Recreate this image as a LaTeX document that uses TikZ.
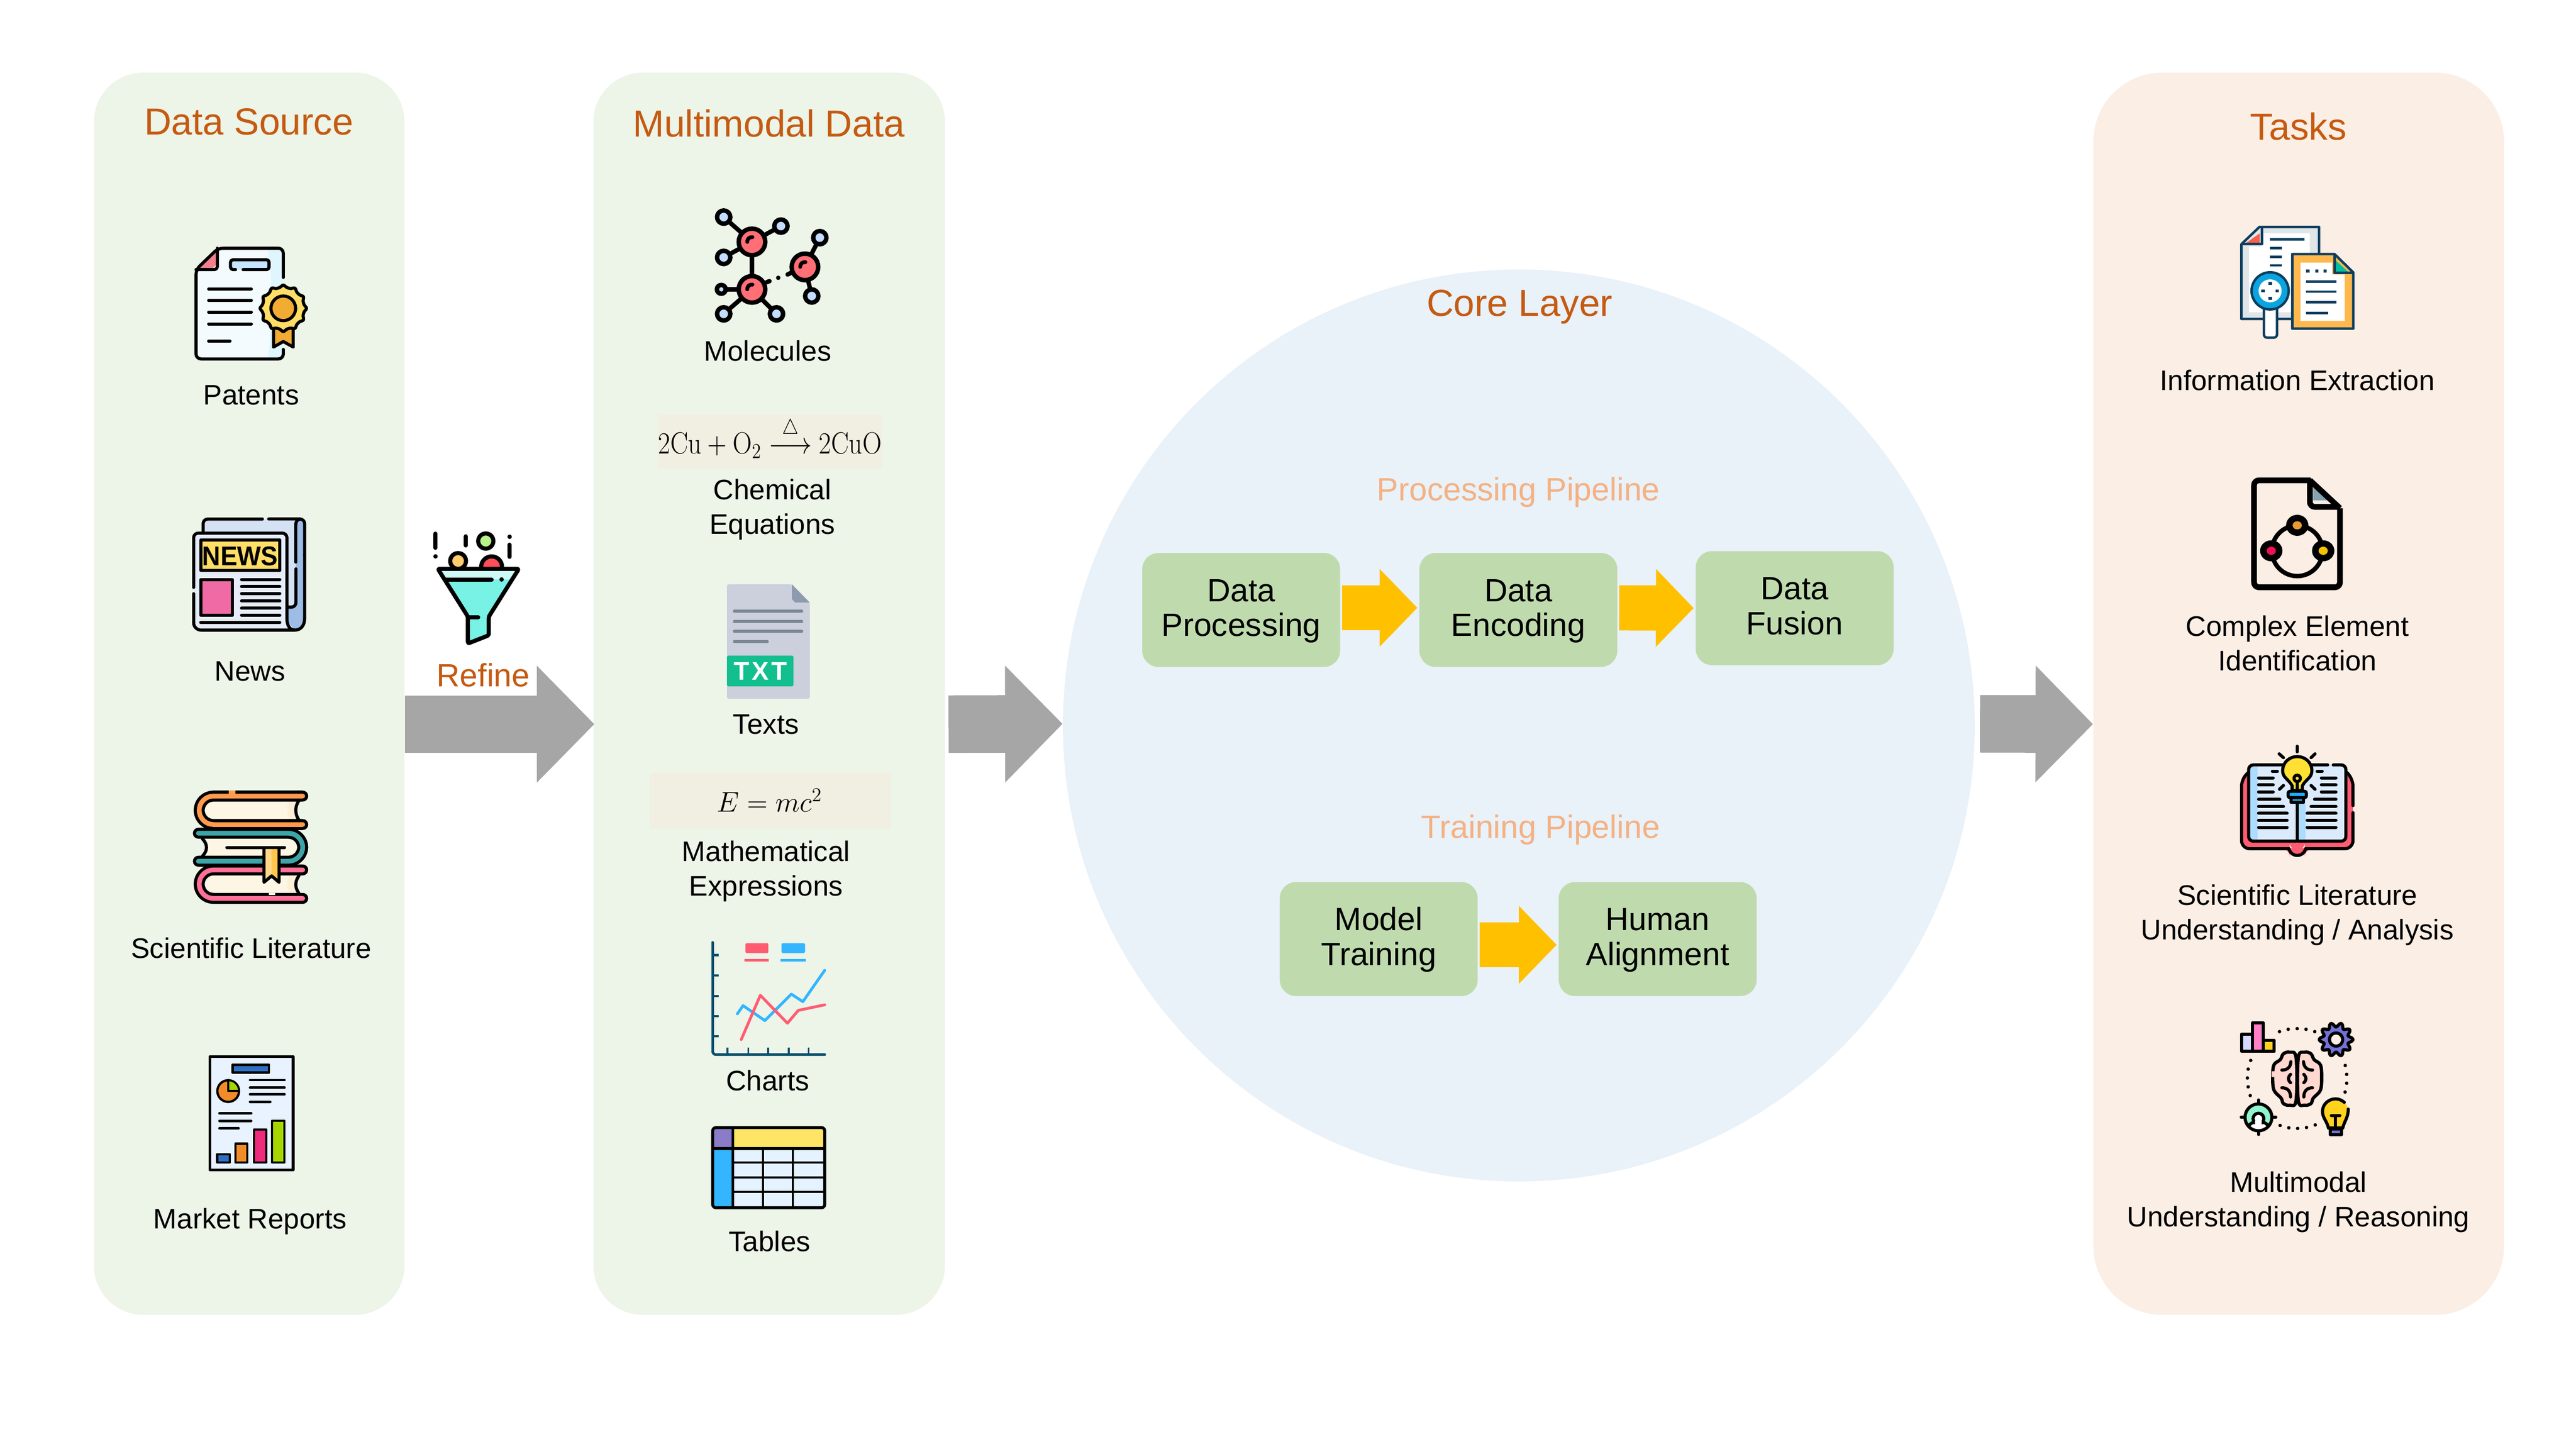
\documentclass[tikz,border=0pt]{standalone}
\usepackage[no-math]{fontspec}
\setmainfont{Liberation Sans}
\usetikzlibrary{arrows.meta,calc}
\definecolor{titlec}{HTML}{C55A11}
\definecolor{pipec}{HTML}{F4B183}
\definecolor{panelg}{HTML}{EDF4E8}
\definecolor{panelt}{HTML}{FBEEE5}
\definecolor{corec}{HTML}{E9F1F9}
\definecolor{boxg}{HTML}{BFDBAE}
\definecolor{gry}{HTML}{A6A6A6}
\definecolor{org}{HTML}{FFC000}
\definecolor{eqbg}{HTML}{F1EEE2}
\definecolor{navy}{HTML}{0E3E5E}
\newcommand\btop{\rule{0pt}{15pt}}
\newcommand\bbot{\rule[-4.2pt]{0pt}{4.2pt}}
\tikzset{
  x=1pt,y=-1pt,
  panel/.style={rectangle,rounded corners=30pt,inner sep=0pt,fill=panelg,anchor=north west},
  blockbox/.style={rectangle,rounded corners=10pt,fill=boxg,inner sep=0pt,minimum width=120.5pt,minimum height=69.4pt,align=center,font=\fontsize{19.6}{21.2}\selectfont},
  lbl/.style={align=center,inner sep=0pt,anchor=base,font=\fontsize{17.2}{21}\selectfont},
  ttl/.style={inner sep=0pt,anchor=base,text=titlec,font=\fontsize{22.9}{26}\selectfont},
  pipe/.style={inner sep=0pt,anchor=base,text=pipec,font=\fontsize{19.6}{24}\selectfont},
  bigarrow/.style={-{Triangle[length=35pt,width=69pt]},line width=35pt,draw=gry},
  oarrow/.style={-{Triangle[length=23pt,width=46pt]},line width=27.5pt,draw=org,shorten >=1pt,shorten <=1pt},
  ic/.style 2 args={shift={(#1/3.4643,#2/3.4643)},scale=.09623},
  ln/.style={draw=black,line cap=round,line join=round,line width=1.9pt},
  lnn/.style={draw=navy,line cap=butt,line join=round,line width=1.5pt},
}
\begin{document}
\begin{tikzpicture}
\useasboundingbox (0,0) rectangle (1568,881.83);
\fill[white] (0,0) rectangle (1568,881.83);
% panels
\node[panel,minimum width=189pt,minimum height=756pt] (ds) at (57,44) {};
\node[panel,minimum width=214pt,minimum height=756pt] (mm) at (361,44) {};
\node[panel,fill=panelt,rounded corners=42pt,minimum width=250pt,minimum height=756pt] (tk) at (1274,44) {};
\node[circle,fill=corec,inner sep=0pt,minimum size=555pt] (core) at (924.5,441.5) {};
% grey arrows
\draw[bigarrow] ([yshift=-18.5pt]ds.east) -- ([xshift=.8pt,yshift=-18.5pt]mm.west);
\draw[bigarrow] ([xshift=2pt,yshift=-18.5pt]mm.east) -- ([yshift=1pt]core.west);
\draw[bigarrow] ([xshift=3pt,yshift=1pt]core.east) -- ([yshift=-18.5pt]tk.west);
% titles
\node[ttl] (t1) at (151.5,82) {Data Source};
\node[ttl] (t2) at (468,83.2) {Multimodal Data};
\node[ttl] (t3) at (1399,85.2) {Tasks};
\node[ttl] (t4) at (925,192.5) {Core Layer};
\node[pipe] (p1) at (924.3,304.5) {Processing Pipeline};
\node[pipe] (p2) at (937.8,510) {Training Pipeline};
\node[pipe,text=titlec] (rf) at (294.2,417.8) {Refine};
% blocks
\node[blockbox] (dp) at (755.5,371.2) {\btop Data\\Processing\bbot};
\node[blockbox] (de) at (924.2,371.2) {\btop Data\\Encoding\bbot};
\node[blockbox] (df) at (1092.4,370.1) {\btop Data\\Fusion\bbot};
\node[blockbox] (mt) at (839.2,571.5) {\btop Model\\Training\bbot};
\node[blockbox] (ha) at (1009,571.5) {\btop Human\\Alignment\bbot};
\draw[oarrow] ([yshift=1.3pt]dp.east) -- ([yshift=1.3pt]de.west);
\draw[oarrow] ([yshift=1.3pt]de.east) -- (df.west);
\draw[oarrow] ([yshift=-3.5pt]mt.east) -- ([yshift=-3.5pt]ha.west);
% labels left
\node[lbl] (l1) at (152.9,246.4) {Patents};
\node[lbl] (l2) at (152.2,414.4) {News};
\node[lbl] (l3) at (152.9,583.2) {Scientific Literature};
\node[lbl] (l4) at (152.2,747.7) {Market Reports};
% labels mid
\node[lbl] (m1) at (467.3,219.8) {Molecules};
\node[lbl] (m2) at (470.1,325) {Chemical\\Equations};
\node[lbl] (m3) at (466.3,446.6) {Texts};
\node[lbl] (m4) at (466.3,545.3) {Mathematical\\Expressions};
\node[lbl] (m5) at (467.3,663.7) {Charts};
\node[lbl] (m6) at (468.4,761.5) {Tables};
% labels right
\node[lbl] (r1) at (1398.4,237.6) {Information Extraction};
\node[lbl] (r2) at (1398.4,408) {Complex Element\\Identification};
\node[lbl] (r3) at (1398.4,571.8) {Scientific Literature\\Understanding / Analysis};
\node[lbl] (r4) at (1399,746.4) {Multimodal\\Understanding / Reasoning};
% equations
\fill[eqbg] (400.5,252) rectangle (537,285);
\node[inner sep=0pt,anchor=base] (eq1) at (468.7,276) {\fontsize{17.28}{21}\selectfont\scalebox{.935}[1.08]{$2\mathrm{Cu}+\mathrm{O}_2\stackrel{\raisebox{2.5pt}{$\scriptstyle\triangle$}}{\longrightarrow}2\mathrm{CuO}$}};
\fill[eqbg] (395.3,470.4) rectangle (542,504.2);
\node[inner sep=0pt,anchor=base] (eq2) at (468.5,494) {\fontsize{17.28}{21}\selectfont $E=mc^2$};

% ---- Patents
\begin{scope}[ic={380}{500}]
\definecolor{c1}{HTML}{F3FBFF}\definecolor{c2}{HTML}{E0F6FF}\definecolor{c3}{HTML}{F47F8E}\definecolor{c4}{HTML}{C6E3FF}\definecolor{c5}{HTML}{FFDD66}\definecolor{c6}{HTML}{F2AB33}
\fill[c1] (100,205) -- (240,70) -- (620,70) -- (652,110) -- (652,735) -- (615,770) -- (140,770) -- (100,735) -- cycle;
\fill[c2] (555,75) -- (620,75) -- (650,110) -- (650,735) -- (615,765) -- (555,765) .. controls (585,500) and (585,300) .. (555,75);
\fill[c3] (120,198) -- (228,95) -- (228,175) -- (205,198) -- cycle;
\draw[ln,rounded corners=3pt] (652,255) -- (652,70) -- (240,70) -- (100,205) -- (100,770) -- (652,770) -- (652,710);
\draw[ln,rounded corners=2pt] (100,205) -- (235,205) -- (235,70);
\fill[c4] (320,145) rectangle (560,205);
\draw[ln,rounded corners=1.5pt] (350,205) -- (318,205) -- (318,143) -- (562,143) -- (562,205) -- (398,205);
\foreach \y in {327,401,475,549} \draw[ln] (180,\y) -- (450,\y);
\draw[ln] (180,658) -- (315,658);
\draw[ln,fill=c6] (590,570) -- (590,695) -- (652,660) -- (715,695) -- (715,570) -- cycle;
\draw[ln,fill=c5] plot[smooth cycle,domain=0:350,samples=36] ({652+(138+9*cos(12*\x))*cos(\x)},{450+(138+9*cos(12*\x))*sin(\x)});
\draw[ln,fill=c6] (652,450) circle (78);
\end{scope}

% ---- News
\begin{scope}[ic={380}{1070}]
\definecolor{c1}{HTML}{D5E2F4}\definecolor{c2}{HTML}{9DBDE6}\definecolor{c3}{HTML}{E6EDF9}\definecolor{c4}{HTML}{FFDD66}\definecolor{c5}{HTML}{F06BA6}
\fill[c1] (145,160) -- (145,73) -- (740,73) -- (740,640) -- (145,640) -- cycle;
\fill[c2] (732,75) -- (787,75) -- (787,700) .. controls (787,750) and (760,775) .. (725,775) -- (675,720) -- (675,630) -- (732,630) -- cycle;
\draw[ln,rounded corners=2.8pt] (145,155) -- (145,73) -- (520,73);
\draw[ln] (560,73) -- (760,73);
\draw[ln,rounded corners=2.8pt] (732,110) -- (732,73) -- (787,73) -- (787,300);
\draw[ln] (787,300) -- (787,700) .. controls (787,750) and (760,775) .. (725,775);
\draw[ln] (732,100) -- (732,345);
\draw[ln,rounded corners=2.8pt] (732,388) -- (732,630) -- (680,630);
\fill[c3] (85,165) -- (675,165) -- (675,710) .. controls (675,750) and (695,775) .. (725,775) -- (135,775) -- (85,725) -- cycle;
\draw[ln,rounded corners=2.8pt] (85,505) -- (85,162) -- (675,162) -- (675,700);
\draw[ln] (675,700) .. controls (675,750) and (695,775) .. (725,775);
\draw[ln,rounded corners=4.5pt] (85,545) -- (85,775) -- (725,775);
\draw[ln,fill=c4] (130,205) rectangle (630,397);
\draw[ln,fill=c5] (130,455) rectangle (330,682);
\foreach \y in {455,500,545,591,636,682} \draw[ln] (388,\y) -- (630,\y);
\draw[ln] (130,727) -- (630,727);
\end{scope}
\node[inner sep=0pt] (newsword) at (146.2,338.5) {\bfseries\fontsize{16.5}{18}\selectfont\scalebox{.93}[1]{NEWS}};

% ---- Books
\begin{scope}[ic={380}{1650}]
\definecolor{c1}{HTML}{FEF6E4}\definecolor{c2}{HTML}{FF9A4D}\definecolor{c3}{HTML}{3DA5A8}\definecolor{c4}{HTML}{FF6F96}\definecolor{c5}{HTML}{FBEFD8}\definecolor{c6}{HTML}{FFD789}\definecolor{c7}{HTML}{FFC84D}
% pink
\fill[c1] (205,585) -- (755,585) -- (730,640) -- (755,700) -- (205,700) -- (150,640) -- cycle;
\fill[c5] (690,590) .. controls (670,620) and (670,665) .. (695,698) -- (750,698) .. controls (725,660) and (725,625) .. (750,590) -- cycle;
\draw[line width=6.7pt,line cap=round,line join=round,rounded corners=8.7pt] (775,552) -- (120,552) -- (120,732) -- (775,732);
\draw[line width=2.9pt,line cap=round,line join=round,draw=c4,rounded corners=8.7pt] (775,552) -- (120,552) -- (120,732) -- (775,732);
\draw[ln] (750,590) .. controls (725,625) and (725,665) .. (750,698);
\fill[c1] (560,697) rectangle (600,712);
% orange
\fill[c1] (205,110) -- (755,110) -- (730,175) -- (755,240) -- (205,240) -- (150,175) -- cycle;
\fill[c5] (690,115) .. controls (670,150) and (670,200) .. (695,238) -- (750,238) .. controls (725,200) and (725,150) .. (750,115) -- cycle;
\draw[line width=6.7pt,line cap=round,line join=round,rounded corners=8.7pt] (775,85) -- (120,85) -- (120,265) -- (775,265);
\draw[line width=2.9pt,line cap=round,line join=round,draw=c2,rounded corners=8.7pt] (775,85) -- (120,85) -- (120,265) -- (775,265);
\fill[c2] (308,48) rectangle (348,72);
\draw[ln] (750,115) .. controls (725,150) and (725,200) .. (750,235);
% teal
\fill[c1] (135,355) -- (690,355) -- (745,410) -- (690,465) -- (135,465) .. controls (175,430) and (175,390) .. (135,355) -- cycle;
\draw[line width=6.7pt,line cap=round,line join=round,rounded corners=8.7pt] (115,320) -- (775,320) -- (775,497) -- (115,497);
\draw[line width=2.9pt,line cap=round,line join=round,draw=c3,rounded corners=8.7pt] (115,320) -- (775,320) -- (775,497) -- (115,497);
\draw[ln] (140,355) .. controls (175,390) and (175,430) .. (140,465);
\draw[ln] (295,410) -- (660,410);
% bookmark
\fill[c6] (530,420) -- (530,630) -- (578,590) -- (578,420) -- cycle;
\fill[c7] (578,420) -- (578,590) -- (625,630) -- (625,420) -- cycle;
\draw[ln] (530,420) -- (530,630) -- (578,590) -- (625,630) -- (625,420);
\end{scope}

% ---- Market report
\definecolor{repbg}{HTML}{E8F3FF}
\definecolor{b1}{HTML}{2F6FC2}\definecolor{b2}{HTML}{F28C28}\definecolor{b3}{HTML}{EE2A7B}\definecolor{b4}{HTML}{A6D600}
\draw[ln,line width=1.7pt,fill=repbg,line cap=butt] (127.7,643) rectangle (178.4,712);
\draw[ln,line width=1.5pt,fill=b1] (141.7,648) rectangle (163.7,652.7);
\draw[ln,line width=1.4pt,fill=b2] (138.9,664) circle (6.6);
\begin{scope}
\clip (138.9,664) circle (6);
\fill[b4] (138.9,664) rectangle (146,657);
\end{scope}
\draw[ln,line width=1.2pt] (138.9,657.8) -- (138.9,664) -- (145.3,664);
\foreach \y in {657.3,661.9,666} \draw[ln,line width=1.5pt] (152.2,\y) -- (173.2,\y);
\draw[ln,line width=1.5pt] (152.2,670.6) -- (164.5,670.6);
\foreach \y in {677.5,682.1} \draw[ln,line width=1.5pt] (133.6,\y) -- (152.9,\y);
\draw[ln,line width=1.5pt] (133.6,686.7) -- (145.2,686.7);
\draw[ln,line width=1.3pt,fill=b1] (132.2,702.4) rectangle (139.9,707.4);
\draw[ln,line width=1.3pt,fill=b2] (143.4,696) rectangle (150.4,707.4);
\draw[ln,line width=1.3pt,fill=b3] (154.6,687.4) rectangle (162,707.4);
\draw[ln,line width=1.3pt,fill=b4] (165.5,682.1) rectangle (173.2,707.4);

% ---- Charts
\definecolor{axc}{HTML}{08506E}\definecolor{rd}{HTML}{FF5C72}\definecolor{bl}{HTML}{33B5FF}
\draw[draw=axc,line width=1.6pt,line cap=round,rounded corners=2pt] (433.8,573.5) -- (433.8,641.8) -- (502,641.8);
\foreach \y in {581.3,593.7,606.2,618.4,630.6} \draw[axc,line width=1.4pt] (433.8,\y) -- (437.5,\y);
\foreach \x in {442.9,455.5,467.7,480,492.2} \draw[axc,line width=1.2pt] (\x,637.5) -- (\x,641.8);
\fill[rd,rounded corners=.6pt] (453.7,574) rectangle (467.7,580);
\fill[bl,rounded corners=.6pt] (475.7,574) rectangle (490,580);
\draw[rd,line width=1.6pt] (453,584.5) -- (468,584.5);
\draw[bl,line width=1.6pt] (475.2,584.5) -- (490.5,584.5);
\draw[bl,line width=1.7pt,line cap=round,line join=round] (448.8,617) -- (452.3,612) -- (465.6,621.1) -- (481.7,605) -- (488.7,609.6) -- (502,590.5);
\draw[rd,line width=1.7pt,line cap=round,line join=round] (451.2,632.6) -- (462.8,605.7) -- (479.3,622.7) -- (485.9,614.9) -- (502,611.5);

% ---- Tables
\definecolor{ty}{HTML}{FFE566}\definecolor{tp}{HTML}{8A7CC8}\definecolor{tb}{HTML}{33B5FF}\definecolor{tc}{HTML}{E4F3FF}
\fill[tc] (446,699) rectangle (502,735);
\fill[ty] (446,686.2) rectangle (502,699);
\fill[tp] (433.8,686.2) rectangle (446,699);
\fill[tb] (433.8,699) rectangle (446,735);
\foreach \x in {464.5,482.7} \draw[line width=1.4pt] (\x,699) -- (\x,735);
\foreach \y in {707.4,716.6,725.4} \draw[line width=1.4pt] (446,\y) -- (502,\y);
\draw[line width=1.6pt] (433.8,699) -- (502,699);
\draw[line width=1.6pt] (446,686.2) -- (446,735);
\draw[ln,line width=1.8pt,rounded corners=2pt] (433.8,686.2) rectangle (502,735);

% ---- Texts
\definecolor{dc}{HTML}{CBD0DC}\definecolor{dfold}{HTML}{8E9AB0}\definecolor{dl}{HTML}{7B8794}\definecolor{tg}{HTML}{13BF8E}
\fill[dc,rounded corners=1pt] (442.5,355.6) -- (482,355.6) -- (492.9,366.7) -- (492.9,425.2) -- (442.5,425.2) -- cycle;
\fill[dfold] (482,355.6) -- (492.9,366.7) -- (484,366.7) -- (482,364.5) -- cycle;
\foreach \y in {372,378.3,384.2} \draw[dl,line width=1.9pt,line cap=round] (447,\y) -- (488,\y);
\draw[dl,line width=1.9pt,line cap=round] (447,390.4) -- (467,390.4);
\fill[tg,rounded corners=1pt] (442.5,399) rectangle (483,417.7);
\node[inner sep=0pt,text=white] (txtword) at (463,408.5) {\bfseries\fontsize{15.5}{17}\selectfont\addfontfeatures{LetterSpace=10}TXT};

% ---- Molecules
\begin{scope}[ic={1440}{420}]
\definecolor{mr}{HTML}{FF6F75}\definecolor{mb}{HTML}{C3DCFF}
\tikzset{mol/.style={line width=2.7pt,line cap=round,line join=round}}
\foreach \a/\b in {258/113,620/170,258/368} \draw[mol] (\a,\b) -- (437,270);
\draw[mol] (437,270) -- (437,570);
\foreach \a/\b in {243/570,258/725,592/725} \draw[mol] (\a,\b) -- (437,570);
\draw[mol] (866,243) -- (772,428); \draw[mol] (815,612) -- (772,428);
\foreach \a/\b in {437/270,437/570,772/428} {
  \draw[mol,fill=mr] (\a,\b) circle (84);
  \draw[line width=2.3pt,line cap=round] (\a-30,\b) .. controls (\a-28,\b-25) and (\a-15,\b-30) .. (\a+3,\b-30);
}
\foreach \a/\b in {258/113,620/170,258/368,258/725,592/725,866/243,815/612} \draw[mol,fill=mb] (\a,\b) circle (42);
\draw[mol,fill=mb] (243,570) circle (28);
\draw[mol] (530,525) -- (548,518);
\fill (603,497) circle (14);
\draw[mol] (662,476) -- (685,465);
\end{scope}

% ---- Funnel
\begin{scope}[ic={890}{1100}]
\definecolor{fa}{HTML}{79F2E6}\definecolor{fb}{HTML}{CFF9F5}\definecolor{fo}{HTML}{FFCC70}\definecolor{fr}{HTML}{FF4D5A}\definecolor{fg}{HTML}{B8F28A}
\tikzset{fn/.style={line width=2.5pt,line cap=round,line join=round}}
\draw[fn,fill=fo] (228,248) circle (50);
\draw[fn,fill=fr] (440,285) circle (66);
\draw[fn,fill=fg] (403,122) circle (48);
\draw[fn] (85,75) -- (85,165); \fill (85,219) circle (14);
\draw[fn] (277,92) -- (277,150);
\fill (554,95) circle (14); \draw[fn] (554,145) -- (554,222);
\fill[white] (90,300) rectangle (620,360);
\fill[fa] (100,300) -- (610,300) -- (425,600) -- (425,720) -- (290,770) -- (290,600) -- cycle;
\fill[fb] (105,305) -- (605,305) -- (565,365) -- (145,365) -- cycle;
\draw[fn,rounded corners=1pt] (100,298) -- (612,298) -- (422,600) -- (422,718) -- (290,770) -- (290,600) -- cycle;
\draw[fn] (145,365) -- (440,365);
\fill (503,365) circle (14);
\draw[fn] (295,603) -- (355,603);
\end{scope}

% ---- Info extraction
\definecolor{ig}{HTML}{E0E5E8}\definecolor{ir}{HTML}{F5604A}\definecolor{io}{HTML}{FFB84D}\definecolor{it}{HTML}{00BFA0}\definecolor{ib}{HTML}{0AA5E0}
\draw[lnn,fill=ig] (1364.3,148.6) -- (1375.3,138.1) -- (1411.6,138.1) -- (1411.6,194.1) -- (1364.3,194.1) -- cycle;
\fill[white] (1369,150) -- (1376.8,150) -- (1376.8,142) -- (1406,142) -- (1406,190) -- (1369,190) -- cycle;
\fill[ir] (1367,148) -- (1375.5,142) -- (1375.5,148) -- cycle;
\draw[lnn] (1364.3,148.6) -- (1376.8,148.6) -- (1376.8,138.1);
\draw[lnn] (1381.8,145.7) -- (1402.7,145.7);
\foreach \y in {151,156.3,161.5} \draw[lnn] (1381.8,\y) -- (1389,\y);
\draw[lnn,fill=white,rounded corners=2pt] (1378,186) -- (1378,205.5) -- (1386,205.5) -- (1386,186);
\draw[lnn,fill=ib] (1381.8,177) circle (11.3);
\fill[white] (1381.8,177) circle (7);
\foreach \a/\b in {1381.8/172.5,1381.8/181.5,1377.5/177,1386.1/177} \fill[navy] (\a-1,\b-.9) rectangle (\a+1,\b+.9);
\draw[lnn,fill=io] (1395.3,154.6) -- (1421,154.6) -- (1432.4,165.8) -- (1432.4,200) -- (1395.3,200) -- cycle;
\fill[white] (1400.3,159.8) -- (1419.5,159.8) -- (1419.5,167) -- (1427.2,167) -- (1427.2,195.3) -- (1400.3,195.3) -- cycle;
\fill[it] (1421.4,158.2) -- (1429.3,165.4) -- (1421.4,165.4) -- cycle;
\draw[lnn] (1421,154.6) -- (1421,166) -- (1432.4,166);
\foreach \y in {171.3,177.5,184} \draw[lnn] (1403.7,\y) -- (1422.2,\y);
\draw[lnn] (1403.7,190.5) -- (1417.2,190.5);
\foreach \x in {1404.7,1410.2,1415.3} \fill[navy] (\x-1,164) rectangle (\x+1,165.8);

% ---- Complex element
\definecolor{cg}{HTML}{84A2B0}\definecolor{co}{HTML}{E89A33}\definecolor{cp}{HTML}{F0105A}\definecolor{cy}{HTML}{F7C200}
\fill[cg] (1407.9,295.5) -- (1419,304.5) -- (1407.9,304.5) -- cycle;
\draw[line width=3.5pt,line join=round,rounded corners=3pt] (1406.6,292.3) -- (1372,292.3) -- (1372,357.4) -- (1424.3,357.4) -- (1424.3,309.3);
\draw[line width=3.5pt,line join=round,rounded corners=.5pt] (1406,292.3) -- (1424.3,309.3);
\draw[line width=3.5pt,line join=round,rounded corners=3pt] (1406,292.3) -- (1406,308.5) -- (1424.3,308.5);
\draw[line width=2.7pt] (1398.3,335.2) circle (15.4);
\fill (1398.3,319.7) ellipse (6.8 and 6.4);
\fill (1382.5,335.2) ellipse (6.8 and 6.4);
\fill (1414.1,335.2) ellipse (6.8 and 6.4);
\fill[co] (1398.3,319.7) ellipse (2.8 and 2.5);
\fill[cp] (1382.5,335.2) ellipse (2.8 and 2.5);
\fill[cy] (1414.1,335.2) ellipse (2.8 and 2.5);

% ---- Open book and bulb
\begin{scope}[ic={4700}{1560}]
\definecolor{br}{HTML}{FF5C73}\definecolor{bp}{HTML}{DCEBFB}\definecolor{bs}{HTML}{ACDCFF}\definecolor{by}{HTML}{FFE033}\definecolor{bb}{HTML}{1CB0FF}
\fill[br,rounded corners=5pt] (80,205) -- (785,205) -- (785,688) -- (480,688) -- (480,700) -- (385,700) -- (385,688) -- (80,688) -- cycle;
\fill[br] (385,685) .. controls (395,745) and (470,745) .. (480,685) -- cycle;
\draw[ln,rounded corners=5pt] (125,205) -- (80,240) -- (80,688) -- (380,688);
\draw[ln] (380,688) .. controls (395,745) and (470,745) .. (485,688);
\draw[ln,rounded corners=5pt] (485,688) -- (785,688) -- (785,460);
\draw[ln,rounded corners=5pt] (785,415) -- (785,240) -- (745,205);
\fill[bp,rounded corners=2pt] (125,158) rectangle (740,640);
\fill[bs] (135,168) rectangle (182,630);
\fill[bs] (440,400) rectangle (485,630);
\draw[ln,rounded corners=2.8pt] (625,158) -- (125,158) -- (125,640) -- (425,640);
\draw[ln,rounded corners=2.8pt] (660,158) -- (740,158) -- (740,640) -- (440,640);
\draw[ln] (432,400) -- (432,640);
\foreach \y in {240,285,330} { \draw[ln] (188,\y) -- (280,\y); \draw[ln] (585,\y) -- (677,\y);}
\draw[ln] (188,375) -- (322,375); \draw[ln] (542,375) -- (677,375);
\draw[ln] (188,420) -- (345,420); \draw[ln] (520,420) -- (677,420);
\foreach \y in {464,508,553} { \draw[ln] (188,\y) -- (368,\y); \draw[ln] (495,\y) -- (677,\y);}
\draw[ln] (275,198) -- (307,198); \draw[ln] (558,198) -- (590,198);
\draw[ln,fill=by] (400,320) -- (400,290) .. controls (380,250) and (340,240) .. (340,195) .. controls (340,140) and (385,105) .. (432,105) .. controls (480,105) and (525,140) .. (525,195) .. controls (525,240) and (485,250) .. (465,290) -- (465,320) -- cycle;
\draw[ln] (432,265) -- (432,320);
\draw[ln,fill=by] (432,243) circle (20);
\draw[ln,fill=bb] (392,365) -- (392,395) -- (472,395) -- (472,365) -- cycle;
\draw[ln,fill=bb,rounded corners=1pt] (375,325) rectangle (490,365);
\draw[ln] (432,40) -- (432,75);
\draw[ln] (318,88) -- (345,112); \draw[ln] (545,88) -- (520,112);
\draw[ln] (320,312) -- (345,288); \draw[ln] (545,312) -- (520,288);
\end{scope}

% ---- Brain
\begin{scope}[ic={4700}{2130}]
\definecolor{ba}{HTML}{D5DAFF}\definecolor{bc}{HTML}{FF80C8}\definecolor{bd}{HTML}{FFD21F}\definecolor{bg}{HTML}{7472D6}\definecolor{bm}{HTML}{8FF5CC}\definecolor{bn}{HTML}{FFD8CF}
\draw[ln,fill=ba] (80,150) rectangle (150,260);
\draw[ln,fill=bc] (150,80) rectangle (218,260);
\draw[ln,fill=bd] (218,190) rectangle (287,260);
\draw[ln,fill=bg] plot[smooth cycle,domain=0:354,samples=60] ({678+(93+14*cos(10*\x))*cos(\x)},{185+(93+14*cos(10*\x))*sin(\x)});
\draw[ln,fill=panelt] (678,185) circle (42);
\foreach \p in {(320,135),(375,120),(432,116),(488,120),(543,135),(138,317),(122,372),(117,428),(122,484),(135,539),(736,349),(745,405),(745,461),(735,517),(324,728),(379,743),(435,747),(491,741),(546,725)} \fill \p circle (11);
% person
\begin{scope}
\clip (187,677) circle (85);
\fill[bm] (187,677) circle (85);
\draw[ln,fill=white] (100,780) -- (100,770) .. controls (130,705) and (160,705) .. (187,705) .. controls (214,705) and (244,705) .. (274,770) -- (274,780) -- cycle;
\draw[ln,fill=white] (187,685) circle (34);
\fill[white] (165,700) rectangle (209,740);
\end{scope}
\draw[ln] (187,677) circle (85);
\draw[ln] (187,567) -- (187,585); \draw[ln] (187,770) -- (187,785);
\draw[ln] (78,677) -- (95,677); \draw[ln] (280,677) -- (297,677);
% small bulb
\draw[ln,fill=bg] (640,750) rectangle (712,785);
\fill[bd] (630,745) .. controls (620,700) and (592,680) .. (592,640) .. controls (592,590) and (635,560) .. (675,560) .. controls (720,560) and (755,595) .. (755,640) .. controls (755,680) and (730,700) .. (720,745) -- cycle;
\draw[ln] (730,582) .. controls (710,565) and (690,560) .. (675,560) .. controls (635,560) and (592,590) .. (592,640) .. controls (592,680) and (620,700) .. (630,745) -- (720,745) .. controls (730,700) and (755,680) .. (755,625);
\draw[ln] (648,666) -- (702,666); \draw[ln] (675,666) -- (675,745);
% brain lobes
\draw[ln,line width=2pt,fill=bn] plot[smooth cycle,tension=.6] coordinates {(425,300) (385,265) (345,275) (325,312) (285,345) (277,420) (285,505) (330,555) (345,590) (385,600) (425,570)};
\draw[ln,line width=2pt,fill=bn] plot[smooth cycle,tension=.6] coordinates {(439,300) (479,265) (519,275) (539,312) (579,345) (587,420) (579,505) (534,555) (519,590) (479,600) (439,570)};
\fill[bn] (270,385) rectangle (290,420);
\draw[ln] (335,378) .. controls (370,378) and (390,360) .. (392,325);
\draw[ln] (390,405) .. controls (372,425) and (372,440) .. (390,458);
\draw[ln] (335,490) .. controls (370,490) and (390,510) .. (390,548);
\draw[ln] (529,378) .. controls (494,378) and (474,360) .. (472,325);
\draw[ln] (474,405) .. controls (492,425) and (492,440) .. (474,458);
\draw[ln] (529,490) .. controls (494,490) and (474,510) .. (474,548);
\end{scope}
\end{tikzpicture}
\end{document}
